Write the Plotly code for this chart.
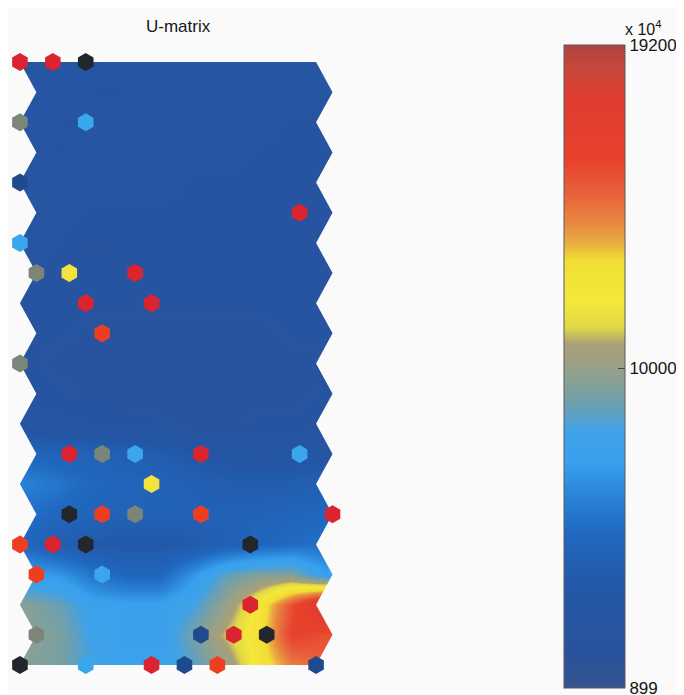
import plotly.graph_objects as go

# ---------------- data ----------------
title_text = "U-matrix"
n_rows = 21
n_cols = 10

# U-matrix values (rows top->bottom, columns left->right; odd rows shifted half a cell right)
umatrix = [
    [2900, 3000, 3000, 2900, 2900, 2800, 2800, 2800, 2800, 2700],
    [3000, 3100, 3000, 3000, 2900, 2900, 2800, 2800, 2800, 2800],
    [3100, 3000, 3000, 2900, 2900, 2800, 2800, 2800, 2700, 2700],
    [3000, 3000, 2900, 2900, 2800, 2800, 2800, 2700, 2700, 2700],
    [2900, 2900, 2800, 2800, 2800, 2700, 2700, 2700, 2700, 2700],
    [2800, 2800, 2700, 2700, 2700, 2700, 2600, 2700, 2700, 2600],
    [2900, 2700, 2300, 2600, 2600, 2600, 2600, 2600, 2600, 2600],
    [2700, 2600, 2600, 2600, 2500, 2500, 2500, 2600, 2600, 2600],
    [2600, 2600, 2500, 2500, 2500, 2500, 2500, 2500, 2500, 2500],
    [2500, 2500, 2400, 2400, 2400, 2400, 2400, 2400, 2500, 2500],
    [2500, 2400, 2400, 2300, 2300, 2300, 2400, 2400, 2400, 2400],
    [2600, 2500, 2400, 2300, 2300, 2300, 2300, 2400, 2400, 2500],
    [3000, 2800, 2700, 2600, 2500, 2400, 2400, 2500, 2500, 2600],
    [5000, 4800, 4700, 4500, 4200, 3800, 3300, 3100, 3200, 3400],
    [6300, 5800, 5200, 5000, 4800, 4500, 4300, 4200, 4300, 4500],
    [5600, 5200, 4900, 4800, 4800, 4700, 4700, 4800, 5000, 5200],
    [5000, 4300, 4000, 3800, 3800, 4000, 4600, 5000, 5400, 5600],
    [7400, 7000, 5800, 5100, 5100, 7000, 8800, 9500, 9500, 7500],
    [9500, 8900, 7700, 7500, 7500, 8200, 10000, 12200, 15500, 18800],
    [9700, 9300, 8000, 7500, 7500, 9200, 11000, 12500, 16000, 15500],
    [9600, 9200, 8300, 7600, 7600, 8600, 10000, 12300, 14300, 15000],
]

cbar_min = 899
cbar_max = 19200
cbar_tickvals = [899, 10000, 19200]
cbar_ticktext = ["899", "10000", "19200"]
cbar_exponent = "x 10<sup>4</sup>"

# labelled hits (row, column, class)
marker_rows = [0, 0, 0, 2, 2, 4, 5, 6, 7, 7, 7, 8, 8, 9, 10,
               13, 13, 13, 13, 13, 14, 15, 15, 15, 15, 15,
               16, 16, 16, 16, 17, 17, 18, 19, 19, 19, 19,
               20, 20, 20, 20, 20, 20]
marker_cols = [0, 1, 2, 0, 2, 0, 8, 0, 0, 1, 3, 2, 4, 2, 0,
               1, 2, 3, 5, 8, 4, 1, 2, 3, 5, 9,
               0, 1, 2, 7, 0, 2, 7, 0, 5, 6, 7,
               0, 2, 4, 5, 6, 9]
marker_kinds = ["red", "red", "black", "gray", "lightblue", "darkblue", "red",
                "lightblue", "gray", "yellow", "red", "red", "red", "orange", "gray",
                "red", "gray", "lightblue", "red", "lightblue", "yellow",
                "black", "orange", "gray", "orange", "red",
                "orange", "red", "black", "black", "orange", "lightblue", "red",
                "gray", "darkblue", "red", "black",
                "black", "lightblue", "red", "darkblue", "orange", "darkblue"]

# ---------------- styles ----------------
bg = "#fafafa"
kind_colors = {
    "red": "#dc2430",
    "orange": "#ee3e22",
    "black": "#23272b",
    "gray": "#7b8679",
    "lightblue": "#3aa6ee",
    "darkblue": "#1f4b8e",
    "yellow": "#f4e23e",
}
colorscale = [
    [0.00, "#35548e"],
    [0.05, "#2a529c"],
    [0.15, "#2357a6"],
    [0.24, "#2068c0"],
    [0.30, "#2a84d8"],
    [0.35, "#38a0ee"],
    [0.40, "#40a2e8"],
    [0.43, "#62a0be"],
    [0.46, "#7ca0a0"],
    [0.50, "#9aa088"],
    [0.535, "#aaa078"],
    [0.56, "#e0d848"],
    [0.60, "#f4e83a"],
    [0.665, "#f2de34"],
    [0.69, "#eab040"],
    [0.72, "#e88a40"],
    [0.77, "#e8603a"],
    [0.82, "#e8422c"],
    [0.92, "#e03c30"],
    [0.96, "#c8483a"],
    [1.00, "#b04242"],
]

PAGE_OFF = 8                  # browser body margin
W, H = 684 - PAGE_OFF, 695 - PAGE_OFF
x0_px, dx_px = 20.0 - PAGE_OFF, 33.1     # column 0 of even rows, column spacing
y0_px, dy_px = 62.0 - PAGE_OFF, 30.15    # row 0, row spacing
plot_w_px = 352.0
FONT = "Liberation Sans, Arial, sans-serif"


def cell_x(r, c):
    return c + 0.5 * (r % 2)


fig = go.Figure()
# smooth U-matrix surface (rows share a common column grid centred between the hex offsets)
fig.add_trace(go.Heatmap(
    x=[c + 0.25 for c in range(n_cols)], y=list(range(n_rows)), z=umatrix,
    zsmooth="best", zmin=cbar_min, zmax=cbar_max, colorscale=colorscale,
    hoverinfo="skip",
    colorbar=dict(
        x=(567 - PAGE_OFF) / W, xanchor="left", xpad=0, ypad=0,
        y=1 - (45 - PAGE_OFF) / H, yanchor="top",
        len=643, lenmode="pixels",
        thickness=61, thicknessmode="pixels",
        outlinewidth=1, outlinecolor="#5a5a5a",
        tickmode="array", tickvals=cbar_tickvals, ticktext=cbar_ticktext,
        ticks="inside", ticklen=7, tickcolor="#444", tickwidth=1,
        ticklabeloverflow="allow",
        tickfont=dict(family=FONT, size=17, color="#151515"),
    ),
))

# masks outside the zig-zag lattice boundary (same colour as the background)
ext = 3.0
left_x = [-ext] + [cell_x(r, 0) for r in range(n_rows)] + [-ext]
left_y = [0] + list(range(n_rows)) + [n_rows - 1]
right_x = [n_cols - 1 + ext] + [cell_x(r, n_cols - 1) for r in range(n_rows)] + [n_cols - 1 + ext]
right_y = [0] + list(range(n_rows)) + [n_rows - 1]
top_x = [-ext, n_cols + ext, n_cols + ext, -ext]
top_y = [-ext, -ext, 0, 0]
bot_x = [-ext, n_cols + ext, n_cols + ext, -ext]
bot_y = [n_rows - 1, n_rows - 1, n_rows - 1 + ext, n_rows - 1 + ext]
for mx, my in [(left_x, left_y), (right_x, right_y), (top_x, top_y), (bot_x, bot_y)]:
    fig.add_trace(go.Scatter(x=mx, y=my, mode="lines", fill="toself",
                             fillcolor=bg, line=dict(width=0, color=bg),
                             hoverinfo="skip", showlegend=False))

# hit markers
fig.add_trace(go.Scatter(
    x=[cell_x(r, c) for r, c in zip(marker_rows, marker_cols)],
    y=marker_rows,
    mode="markers",
    marker=dict(symbol="hexagon", size=18,
                color=[kind_colors[k] for k in marker_kinds],
                line=dict(width=0)),
    cliponaxis=False, hoverinfo="skip", showlegend=False,
))

x_lo = -x0_px / dx_px
x_hi = x_lo + plot_w_px / dx_px
y_top = -y0_px / dy_px
y_bot = y_top + H / dy_px

fig.update_layout(
    width=W, height=H, autosize=False,
    margin=dict(l=0, r=0, t=0, b=0),
    paper_bgcolor=bg, plot_bgcolor=bg,
    showlegend=False,
    xaxis=dict(domain=[0, plot_w_px / W], range=[x_lo, x_hi], visible=False, fixedrange=True),
    yaxis=dict(domain=[0, 1], range=[y_bot, y_top], visible=False, fixedrange=True),
    annotations=[
        dict(text=title_text, x=(180 - PAGE_OFF) / W, y=1 - (27 - PAGE_OFF) / H,
             xref="paper", yref="paper", xanchor="center", yanchor="middle", showarrow=False,
             font=dict(family=FONT, size=17, color="#151515")),
        dict(text=cbar_exponent, x=(627 - PAGE_OFF) / W, y=1 - (28 - PAGE_OFF) / H,
             xref="paper", yref="paper", xanchor="left", yanchor="middle", showarrow=False,
             font=dict(family=FONT, size=16, color="#151515")),
    ],
)

fig.write_html("out.html")
